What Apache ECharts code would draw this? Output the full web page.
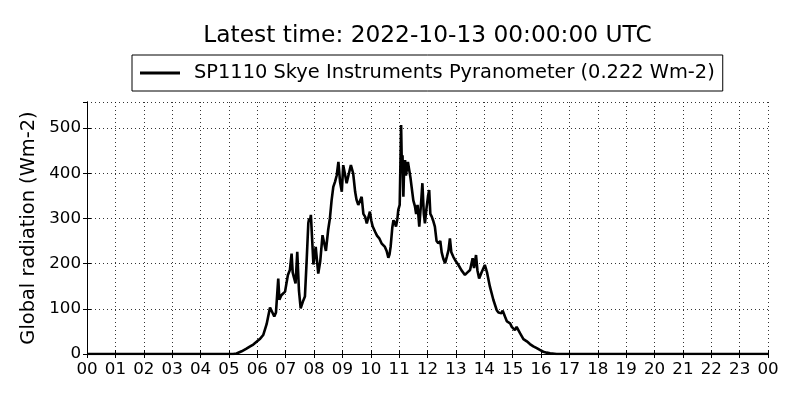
<!DOCTYPE html>
<html>
<head>
<meta charset="utf-8">
<script src="https://cdn.jsdelivr.net/npm/echarts@6/dist/echarts.min.js"></script>
<style>
html,body{margin:0;padding:0;background:#fff;}
#chart{width:800px;height:400px;}
</style>
</head>
<body>
<div id="chart"></div>
<script>
const titleText = 'Latest time: 2022-10-13 00:00:00 UTC';
const seriesName = 'SP1110 Skye Instruments Pyranometer (0.222 Wm-2)';
const yAxisName = 'Global radiation (Wm-2)';
// time of day in hours (UTC)
const hours = [0.0,4.8,5.15,5.27,5.45,5.62,5.75,5.86,6.09,6.21,6.33,6.45,6.5,6.6,6.66,6.74,6.78,6.85,6.98,7.08,7.15,7.21,7.25,7.29,7.35,7.41,7.47,7.53,7.62,7.68,7.74,7.8,7.83,7.86,7.89,7.98,8.06,8.15,8.22,8.3,8.36,8.42,8.5,8.56,8.62,8.68,8.74,8.8,8.86,8.92,8.98,9.03,9.1,9.15,9.25,9.3,9.34,9.38,9.45,9.5,9.56,9.62,9.68,9.74,9.8,9.86,9.9,9.97,10.02,10.07,10.15,10.22,10.3,10.38,10.44,10.5,10.56,10.62,10.66,10.7,10.76,10.8,10.85,10.89,10.94,10.97,11.02,11.07,11.1,11.12,11.15,11.18,11.21,11.24,11.27,11.31,11.35,11.4,11.44,11.5,11.56,11.6,11.65,11.71,11.78,11.82,11.87,11.91,11.96,12.02,12.06,12.1,12.15,12.2,12.26,12.32,12.38,12.45,12.5,12.56,12.62,12.68,12.74,12.79,12.84,12.91,13.0,13.09,13.2,13.32,13.4,13.5,13.55,13.59,13.64,13.71,13.76,13.82,13.9,14.02,14.1,14.2,14.32,14.44,14.5,14.56,14.61,14.65,14.73,14.8,14.91,14.97,15.02,15.08,15.14,15.2,15.26,15.38,15.5,15.61,15.73,15.85,15.96,16.08,16.2,16.32,16.55,24.0];
// global radiation (Wm-2)
const radiation = [0,0,0,1,6,12,17,21,33,42,66,103,104,83,92,167,120,130,138,175,186,222,180,170,156,226,140,101,118,127,205,290,300,295,308,198,237,178,205,263,245,228,275,300,340,370,381,395,425,380,359,418,395,378,405,418,415,400,359,341,330,333,348,310,304,289,285,315,295,282,271,262,256,245,242,237,228,213,220,237,280,296,290,282,300,319,330,507,400,440,348,420,429,395,392,425,429,390,370,340,326,310,330,282,340,378,310,289,320,350,363,310,304,295,282,250,245,250,225,210,201,215,230,256,225,215,205,197,185,175,180,186,190,212,190,219,185,167,180,197,180,149,120,97,92,94,90,96,83,72,68,60,57,53,60,57,46,33,28,22,17,13,9,5,3,1.5,0,0];
const xTicks = [0,1,2,3,4,5,6,7,8,9,10,11,12,13,14,15,16,17,18,19,20,21,22,23,24];
const yTicks = [0,100,200,300,400,500];

const FONT = 'DejaVu Sans';
const chart = echarts.init(document.getElementById('chart'), null, {renderer: 'canvas'});
const data = hours.map((h, i) => [h, radiation[i]]);
const gridLine = {show: true, lineStyle: {color: '#000', width: 0.8, type: [1, 3]}};
const pad2 = v => String(Math.round(v) % 24).padStart(2, '0');

chart.setOption({
  animation: false,
  backgroundColor: '#fff',
  graphic: [{
    type: 'text', x: 427.5, y: 36,
    style: {text: titleText, font: '23.3px "DejaVu Sans"', fill: '#000', align: 'center', verticalAlign: 'middle'}
  }],
  legend: {
    data: [{name: seriesName, icon: 'rect'}],
    left: 132, top: 55,
    padding: [8.5, 8, 8.5, 8],
    itemWidth: 40, itemHeight: 3,
    borderColor: '#000', borderWidth: 1, borderRadius: 0,
    itemStyle: {color: '#000'},
    textStyle: {fontFamily: FONT, fontSize: 19.4, color: '#000', padding: [0, 0, 0, 9]}
  },
  grid: {left: 87, right: 32, top: 102, bottom: 46, containLabel: false},
  xAxis: [{
    type: 'value', min: 0, max: 24, interval: 1,
    axisLine: {show: true, lineStyle: {color: '#000', width: 1}},
    axisTick: {show: true, inside: true, length: 4, lineStyle: {color: '#000'}},
    axisLabel: {formatter: pad2, fontFamily: FONT, fontSize: 16.7, color: '#000', margin: 7},
    splitLine: gridLine
  }, {
    type: 'value', min: 0, max: 24, interval: 1, position: 'top',
    axisLine: {show: true, lineStyle: {color: '#000', width: 1}},
    axisTick: {show: true, inside: true, length: 4, lineStyle: {color: '#000'}},
    axisLabel: {show: false}, splitLine: {show: false}
  }],
  yAxis: [{
    type: 'value', min: 0, max: 557.7, interval: 100,
    name: yAxisName, nameLocation: 'middle', nameGap: 49,
    nameTextStyle: {fontFamily: FONT, fontSize: 19.4, color: '#000'},
    axisLine: {show: true, lineStyle: {color: '#000', width: 1}},
    axisTick: {show: true, inside: true, length: 4, lineStyle: {color: '#000'}},
    axisLabel: {fontFamily: FONT, fontSize: 16.7, color: '#000', margin: 6, showMaxLabel: false,
      formatter: v => yTicks.includes(v) ? String(v) : ''},
    splitLine: gridLine
  }, {
    type: 'value', min: 0, max: 557.7, interval: 100, position: 'right',
    axisLine: {show: true, lineStyle: {color: '#000', width: 1}},
    axisTick: {show: true, inside: true, length: 4, lineStyle: {color: '#000'}},
    axisLabel: {show: false}, splitLine: {show: false}
  }],
  series: [{
    name: seriesName, type: 'line', data: data,
    xAxisIndex: 0, yAxisIndex: 0,
    symbol: 'none', showSymbol: false,
    lineStyle: {color: '#000', width: 2.6},
    itemStyle: {color: '#000'}
  }]
});
</script>
</body>
</html>
